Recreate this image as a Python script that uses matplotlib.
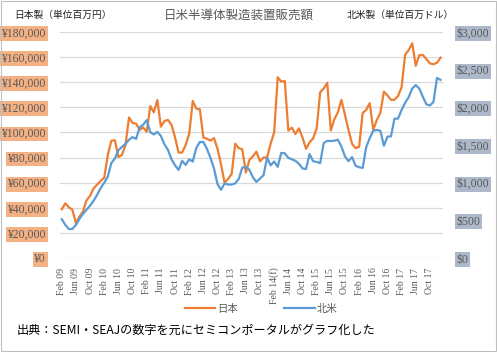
import numpy as np
import matplotlib
matplotlib.use('Agg')
import matplotlib.pyplot as plt
from matplotlib.patches import Rectangle

plt.rcParams['font.family'] = ['Noto Sans CJK JP', 'DejaVu Sans']

# monthly sales, Feb 09 .. Jan 18
japan = [38800, 43500, 40400, 38500, 27600, 33000, 37000, 46000, 49500, 55500,
         58500, 61500, 64000, 82000, 93400, 93800, 80500, 82000, 90000, 112000,
         107500, 107000, 102000, 104000, 100500, 121000, 116000, 125800, 104600, 109000,
         110000, 106000, 96000, 84000, 84000, 90000, 99000, 125000, 119000, 118400,
         96000, 95000, 93500, 95500, 87000, 74500, 60000, 63000, 67000, 91000,
         87500, 86500, 68000, 78000, 81000, 84700, 77000, 80000, 80000, 91000,
         100000, 144000, 140500, 141000, 101500, 103800, 98700, 103200, 96000, 87000,
         92000, 95300, 103000, 132000, 135000, 139600, 101500, 110500, 116000, 126000,
         114000, 102000, 91000, 87500, 88500, 115500, 118000, 123300, 102000, 110000,
         115500, 132500, 129500, 126000, 126000, 129000, 136000, 162000, 165500, 171000,
         153000, 161500, 161700, 158500, 155000, 154300, 155500, 159500]

north_america = [514, 440, 385, 385, 440, 520, 585, 640, 695, 760,
                 840, 930, 1000, 1080, 1260, 1320, 1430, 1475, 1515, 1570,
                 1605, 1580, 1735, 1770, 1830, 1670, 1640, 1675, 1620, 1510,
                 1435, 1310, 1230, 1170, 1290, 1235, 1310, 1280, 1460, 1540,
                 1540, 1450, 1330, 1190, 980, 905, 990, 975, 975, 990,
                 1050, 1200, 1210, 1170, 1070, 1010, 1055, 1100, 1330, 1230,
                 1280, 1210, 1395, 1390, 1330, 1310, 1290, 1250, 1190, 1180,
                 1380, 1285, 1275, 1260, 1525, 1555, 1553, 1557, 1570, 1480,
                 1350, 1285, 1340, 1225, 1205, 1195, 1470, 1590, 1690, 1700,
                 1690, 1490, 1610, 1615, 1850, 1850, 1965, 2060, 2135, 2250,
                 2295, 2250, 2140, 2040, 2025, 2070, 2390, 2365]

month_labels = ['Feb 09', 'Jun 09', 'Oct 09', 'Feb 10', 'Jun 10', 'Oct 10',
                'Feb 11', 'Jun 11', 'Oct 11', 'Feb 12', 'Jun 12', 'Oct 12',
                'Feb 13', 'Jun 13', 'Oct 13', 'Feb 14(f)', 'Jun 14', 'Oct 14',
                'Feb 15', 'Jun 15', 'Oct 15', 'Feb 16', 'Jun 16', 'Oct 16',
                'Feb 17', 'Jun 17', 'Oct 17']

yen_ticks = [0, 20000, 40000, 60000, 80000, 100000, 120000, 140000, 160000, 180000]
usd_ticks = [0, 500, 1000, 1500, 2000, 2500, 3000]

ORANGE = '#ED7D31'
BLUE = '#5B9BD5'
GREY = '#595959'

fig = plt.figure(figsize=(4.97, 3.52), dpi=100)
ax = fig.add_axes([60 / 497, 94 / 352, 383 / 497, 226 / 352])
ax2 = ax.twinx()

x = np.arange(len(japan))
ax.plot(x, japan, color=ORANGE, lw=1.6, label='日本', solid_joinstyle='round')
ax2.plot(x, north_america, color=BLUE, lw=1.6, label='北米', solid_joinstyle='round')

ax.set_xlim(-0.5, len(japan) - 0.3)
ax.set_ylim(0, 180000)
ax2.set_ylim(0, 3000)

ax.set_yticks(yen_ticks)
ax.set_yticklabels(['¥{:,}'.format(v) for v in yen_ticks],
                   family='Liberation Serif', fontsize=8.5, color=GREY)
ax2.set_yticks(usd_ticks)
ax2.set_yticklabels(['${:,}'.format(v) for v in usd_ticks],
                    family='Liberation Serif', fontsize=8.5, color=GREY)
for lab in ax.get_yticklabels():
    lab.set_bbox(dict(facecolor='#F4B183', edgecolor='none', pad=1))
for lab in ax2.get_yticklabels():
    lab.set_bbox(dict(facecolor='#ADB9CA', edgecolor='none', pad=1))

ax.set_xticks(np.arange(0, len(japan), 4)[:len(month_labels)])
ax.set_xticklabels(month_labels, rotation=90, family='Liberation Serif',
                   fontsize=7, color=GREY)

ax.tick_params(length=0)
ax.tick_params(axis='y', pad=10)
ax.tick_params(axis='x', pad=7)
ax2.tick_params(length=0, pad=10)

ax.grid(axis='y', color='#D9D9D9', lw=0.9)
ax.set_axisbelow(True)
for a in (ax, ax2):
    for s in a.spines.values():
        s.set_visible(False)

fig.text(239 / 497, 0.958, '日米半導体製造装置販売額', ha='center', va='center',
         fontsize=9, color=GREY)
fig.text(14 / 497, 0.958, '日本製（単位百万円）', ha='left', va='center',
         fontsize=7, color='#222222')
fig.text(347 / 497, 0.958, '北米製（単位百万ドル）', ha='left', va='center',
         fontsize=7, color='#222222')

h1, l1 = ax.get_legend_handles_labels()
h2, l2 = ax2.get_legend_handles_labels()
fig.legend(h1 + h2, l1 + l2, loc='center', bbox_to_anchor=(261 / 497, 1 - 309 / 352),
           ncol=2, frameon=False, fontsize=7.5, labelcolor=GREY,
           handlelength=2.9, columnspacing=4.5, handletextpad=0.2)

fig.text(17 / 497, 1 - 330 / 352, '出典：SEMI・SEAJの数字を元にセミコンポータルがグラフ化した',
         ha='left', va='center', fontsize=8.7, color='black')

fig.patches.append(Rectangle((0.002, 0.003), 0.996, 0.994, transform=fig.transFigure,
                             fill=False, edgecolor='#BFBFBF', lw=0.8))

fig.savefig('out.png', dpi=100)
